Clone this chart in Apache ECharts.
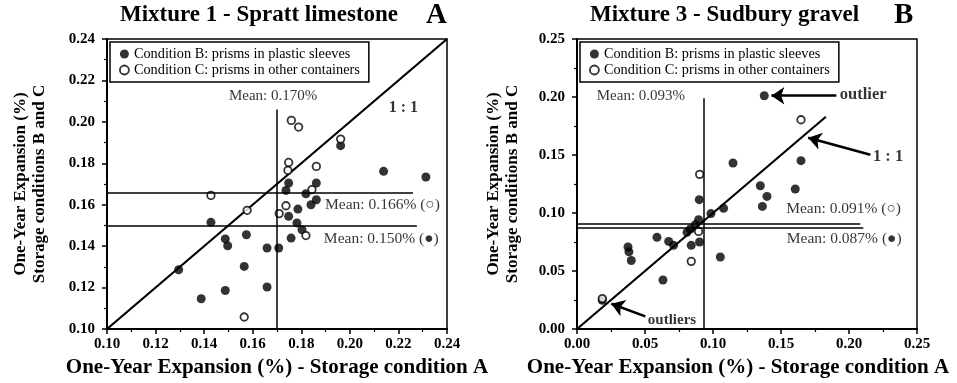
<!DOCTYPE html>
<html><head><meta charset="utf-8">
<script src="https://cdn.jsdelivr.net/npm/echarts/dist/echarts.min.js"></script>
<style>html,body{margin:0;padding:0;background:#fff}#c{width:957px;height:383px}</style>
</head><body><div id="c"></div>
<script>
// ---------- data ----------
const nameB = 'Condition B: prisms in plastic sleeves';
const nameC = 'Condition C: prisms in other containers';
const titleA = 'Mixture 1 - Spratt limestone';
const titleB = 'Mixture 3 - Sudbury gravel';
const xAxisName = 'One-Year Expansion (%) - Storage condition A';
const yAxisName = ['One-Year Expansion (%)', 'Storage conditions B and C'];

// Chart A (Spratt limestone): [storage A, storage B/C]
const aCondB = [[0.1962,0.1885],[0.2139,0.1761],[0.2313,0.1734],[0.1748,0.1705],[0.1737,0.1669],[0.1862,0.1705],[0.1819,0.1653],[0.1862,0.1624],[0.1840,0.1600],[0.1786,0.1579],[0.1748,0.1544],[0.1782,0.1512],[0.1803,0.1479],[0.1758,0.1439],[0.1659,0.1391],[0.1707,0.1391],[0.1428,0.1515],[0.1487,0.1435],[0.1497,0.1402],[0.1574,0.1455],[0.1565,0.1302],[0.1295,0.1286],[0.1659,0.1203],[0.1487,0.1186],[0.1388,0.1146]];
const aCondC = [[0.1759,0.2007],[0.1789,0.1975],[0.1962,0.1917],[0.1748,0.1804],[0.1745,0.1766],[0.1862,0.1785],[0.1844,0.1673],[0.1737,0.1595],[0.1709,0.1557],[0.1819,0.1451],[0.1428,0.1645],[0.1577,0.1573],[0.1565,0.1058]];
const aMeanA = 0.170, aMeanC = 0.166, aMeanB = 0.150;

// Chart B (Sudbury gravel)
const bCondB = [[0.1377,0.2011],[0.1147,0.1431],[0.1647,0.1451],[0.1348,0.1235],[0.1605,0.1207],[0.1397,0.1143],[0.1363,0.1057],[0.1078,0.1040],[0.0985,0.0995],[0.0899,0.1115],[0.0894,0.0942],[0.0870,0.0899],[0.0833,0.0862],[0.0809,0.0833],[0.0588,0.0790],[0.0674,0.0755],[0.0710,0.0721],[0.0840,0.0721],[0.0901,0.0750],[0.1054,0.0621],[0.0632,0.0422],[0.0375,0.0707],[0.0382,0.0665],[0.0399,0.0591],[0.0186,0.0248]];
const bCondC = [[0.1647,0.1804],[0.0902,0.1333],[0.0894,0.0841],[0.0840,0.0583],[0.0186,0.0262]];
const bMeanA = 0.093, bMeanC = 0.091, bMeanB = 0.087;

// axes ranges / ticks
const aRange = [0.10, 0.24], aStep = 0.02;
const bRange = [0.00, 0.25], bStep = 0.05;

// ---------- chart ----------
const FF = '"Liberation Serif","Times New Roman","DejaVu Serif",serif';
const pct = v => v.toFixed(3) + '%';

function axis(gi, range, step, isY) {
  const o = {
    gridIndex: gi, type: 'value', min: range[0], max: range[1], interval: step,
    axisLine: { onZero: false, lineStyle: { color: '#000', width: 2 } },
    axisTick: { length: 5, lineStyle: { color: '#000', width: 1.5 } },
    minorTick: { show: true, splitNumber: 2, length: 3, lineStyle: { color: '#000', width: 1.2 } },
    splitLine: { show: false },
    axisLabel: { color: '#000', fontFamily: FF, fontWeight: 'bold', fontSize: 15, margin: isY ? 12 : 8,
      formatter: v => v.toFixed(2) },
    nameLocation: 'middle'
  };
  if (isY) {
    o.name = yAxisName.join('\n'); o.nameRotate = 90; o.nameGap = gi === 0 ? 58 : 55;
    o.nameTextStyle = { color: '#000', fontFamily: FF, fontWeight: 'bold', fontSize: 17, lineHeight: 19 };
  } else {
    o.name = xAxisName; o.nameGap = 28;
    o.nameTextStyle = { color: '#000', fontFamily: FF, fontWeight: 'bold', fontSize: 21,
      padding: gi === 0 ? 0 : [0, 18, 0, 0] };
  }
  return o;
}

function labelItem(x, y, text, opts) {
  return { value: [x, y], label: Object.assign({ show: true, formatter: text, position: [0, 0],
    align: 'left', verticalAlign: 'middle', color: '#000', fontFamily: FF, fontSize: 15 }, opts || {}) };
}

const lineStyleThin = { color: '#000', width: 1.5, type: 'solid' };
const arrowStyle = { color: '#000', width: 2.5, type: 'solid' };

function plotSeries(gi, condB, condC, oneToOne, meanLines, labels, arrows) {
  const lbl = { type: 'scatter', xAxisIndex: gi, yAxisIndex: gi, data: labels, symbolSize: 1,
      itemStyle: { color: 'rgba(0,0,0,0)' }, silent: true, z: 5 };
  if (arrows) {
    lbl.markLine = { silent: true, symbol: ['none', 'arrow'], symbolSize: 13, label: { show: false },
      lineStyle: arrowStyle, itemStyle: { color: '#000' }, data: arrows };
  }
  return [
    { type: 'scatter', name: nameB, xAxisIndex: gi, yAxisIndex: gi, data: condB, symbol: 'circle', symbolSize: 9,
      itemStyle: { color: '#000' }, z: 3 },
    { type: 'scatter', name: nameC, xAxisIndex: gi, yAxisIndex: gi, data: condC, symbol: 'circle', symbolSize: 7.5,
      itemStyle: { color: '#fff', borderColor: '#000', borderWidth: 1.8 }, z: 4 },
    { type: 'line', xAxisIndex: gi, yAxisIndex: gi, data: oneToOne, symbol: 'none',
      lineStyle: { color: '#000', width: 2.2 }, z: 2,
      markLine: { silent: true, symbol: ['none', 'none'], label: { show: false }, lineStyle: lineStyleThin,
        data: meanLines } },
    lbl
  ];
}

const seriesA = plotSeries(0, aCondB, aCondC,
  [[aRange[0], aRange[0]], [aRange[1], aRange[1]]],
  [
    [{ coord: [aMeanA, aRange[0]] }, { coord: [aMeanA, 0.206] }],
    [{ coord: [aRange[0], aMeanC] }, { coord: [0.226, aMeanC] }],
    [{ coord: [aRange[0], aMeanB] }, { coord: [0.2276, aMeanB] }]
  ],
  [
    labelItem(0.1686, 0.2121, 'Mean: ' + pct(aMeanA), { align: 'center' }),
    labelItem(0.1900, 0.1595, 'Mean: ' + pct(aMeanC) + ' (○)', { fontSize: 15.5 }),
    labelItem(0.1895, 0.1431, 'Mean: ' + pct(aMeanB) + ' (●)', { fontSize: 15.5 }),
    labelItem(0.2162, 0.2066, '1 : 1', { fontWeight: 'bold', fontSize: 16 })
  ], null);

const seriesB = plotSeries(1, bCondB, bCondC,
  [[bRange[0], bRange[0]], [0.183, 0.183]],
  [
    [{ coord: [bMeanA, bRange[0]] }, { coord: [bMeanA, 0.199] }],
    [{ coord: [bRange[0], bMeanC] }, { coord: [0.2083, bMeanC] }],
    [{ coord: [bRange[0], bMeanB] }, { coord: [0.2105, bMeanB] }]
  ],
  [
    labelItem(0.0149, 0.2000, 'Mean: ' + pct(bMeanA)),
    labelItem(0.1542, 0.1028, 'Mean: ' + pct(bMeanC) + ' (○)', { fontSize: 15.5 }),
    labelItem(0.1546, 0.0770, 'Mean: ' + pct(bMeanB) + ' (●)', { fontSize: 15.5 }),
    labelItem(0.1936, 0.2011, 'outlier', { fontWeight: 'bold', fontSize: 16.5 }),
    labelItem(0.2180, 0.1480, '1 : 1', { fontWeight: 'bold', fontSize: 16.5 }),
    labelItem(0.0517, 0.0075, 'outliers', { fontWeight: 'bold', backgroundColor: '#fff', padding: [0, 1, 0, 1] })
  ],
  [
    [{ coord: [0.1907, 0.2011] }, { coord: [0.1429, 0.2011] }],
    [{ coord: [0.2157, 0.1502] }, { coord: [0.1700, 0.1649] }],
    [{ coord: [0.0502, 0.0109] }, { coord: [0.0252, 0.0218] }]
  ]);

function legend(left) {
  return { left: left, top: 42, orient: 'vertical', selectedMode: false,
    data: [{ name: nameB, icon: 'circle', itemStyle: { color: '#000' } },
           { name: nameC, icon: 'circle', itemStyle: { color: '#fff', borderColor: '#000', borderWidth: 1.8 } }],
    itemWidth: 9, itemHeight: 9, itemGap: 2, padding: [5, 9, 5, 9],
    borderColor: '#000', borderWidth: 1.5, backgroundColor: '#fff',
    textStyle: { fontFamily: FF, fontSize: 14.3, color: '#000' } };
}

function title(text, left, top, size) {
  return { text: text, left: left, top: top, padding: 0,
    textStyle: { fontFamily: FF, fontWeight: 'bold', fontSize: size, color: '#000' } };
}

const chart = echarts.init(document.getElementById('c'), null, { renderer: 'canvas' });
chart.setOption({
  animation: false,
  backgroundColor: '#fff',
  title: [title(titleA, 120, 4, 23), title('A', 426, 1, 29), title(titleB, 590, 4, 23), title('B', 894, 1, 29)],
  legend: [legend(110), legend(580)],
  grid: [
    { left: 107, top: 39, width: 340, height: 290, show: true, borderColor: '#000', borderWidth: 1.5 },
    { left: 577, top: 39, width: 340, height: 290, show: true, borderColor: '#000', borderWidth: 1.5 }
  ],
  xAxis: [axis(0, aRange, aStep, false), axis(1, bRange, bStep, false)],
  yAxis: [axis(0, aRange, aStep, true), axis(1, bRange, bStep, true)],
  series: seriesA.concat(seriesB)
});
</script>
</body></html>
